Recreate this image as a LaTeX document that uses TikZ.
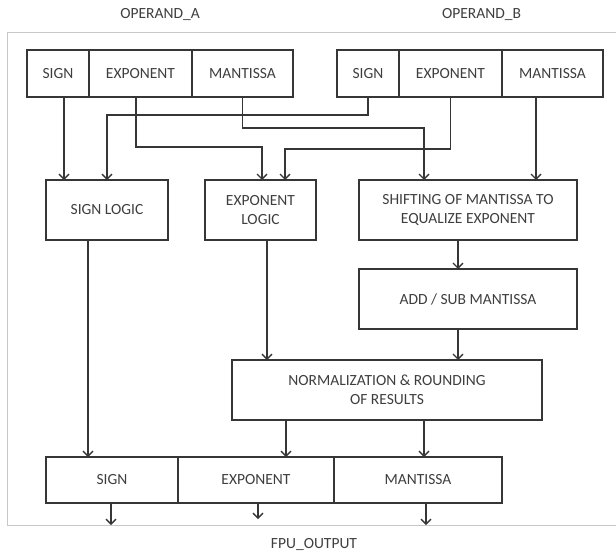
\documentclass[tikz,border=0pt]{standalone}
\usepackage{fontspec}
\setmainfont{Carlito}
\usetikzlibrary{positioning,arrows.meta}
\definecolor{linegray}{HTML}{363636}
\definecolor{textgray}{HTML}{3E3E3E}
\definecolor{framegray}{HTML}{C8C8C8}

\begin{document}
\begin{tikzpicture}
	[x=1pt, y=-1pt,
		font=\fontsize{15.5}{19}\selectfont,
		text=textgray,
		field/.style	={rectangle
								, draw=linegray
								, line width=1.4pt
								, minimum height=47pt
								, inner sep=0pt
								, outer sep=0pt
								},
		block/.style	={rectangle
								, draw=linegray
								, line width=1.4pt
								, minimum height=60pt
								, align=center
								, inner sep=0pt
								, outer sep=0pt
								},
		line/.style		={draw=linegray
								, line width=1.4pt
								, -{Straight Barb[length=5pt,width=10pt]}
								}
	]
\useasboundingbox (0,0) rectangle (616,554);
% frame round the unit
\draw [framegray, line width=1pt] (617,32) -- (7,32) -- (7,525) -- (617,525);
\coordinate (frame bottom) at (0,525);

% operands
\node (operand a) at (160,15) {OPERAND\_A};
\node (operand b) at (481.5,15) {OPERAND\_B};
\node [field, minimum width=62pt, anchor=north west] (a sign) at (27,50) {SIGN};
\node [field, minimum width=103pt, right=0pt of a sign] (a exponent) {EXPONENT};
\node [field, minimum width=101pt, right=0pt of a exponent] (a mantissa) {MANTISSA};
\node [field, minimum width=62pt, anchor=north west] (b sign) at (337,50) {SIGN};
\node [field, minimum width=103pt, right=0pt of b sign] (b exponent) {EXPONENT};
\node [field, minimum width=101pt, right=0pt of b exponent] (b mantissa) {MANTISSA};

% logic blocks
\node [block, minimum width=122pt] (sign logic) at (107,210) {SIGN LOGIC};
\node [block, minimum width=111pt] (exponent logic) at (260.5,210) {EXPONENT\\LOGIC};
\node [block, minimum width=218pt] (shifting) at (468,210) {SHIFTING OF MANTISSA TO\\EQUALIZE EXPONENT};
\node [block, minimum width=218pt, below=29pt of shifting] (add sub) {ADD / SUB MANTISSA};
\node [block, minimum width=310pt] (normalization) at (387,390) {NORMALIZATION \& ROUNDING\\OF RESULTS};

% result
\node [field, minimum height=46pt, minimum width=132pt, anchor=north west] (out sign) at (46,457) {SIGN};
\node [field, minimum height=46pt, minimum width=156pt, right=0pt of out sign] (out exponent) {EXPONENT};
\node [field, minimum height=46pt, minimum width=168pt, right=0pt of out exponent] (out mantissa) {MANTISSA};
\node (fpu output) at (314,545) {FPU\_OUTPUT};

\begin{scope}[every path/.style=line]
	\path		([xshift=6pt]a sign.south)			-- ([xshift=6pt]a sign.south |- sign logic.north);
	\path		(b sign.south)							-- ++(0,18) -| (sign logic.north);
	\path		([xshift=-4.5pt]a exponent.south)	-- ++(0,50) -| ([xshift=1.5pt]exponent logic.north);
	\path		(b exponent.south)						-- ++(0,52) -| ([xshift=24.5pt]exponent logic.north);
	\path		(a mantissa.south)						-- ++(0,31) -| ([xshift=-44pt]shifting.north);
	\path		([xshift=-16.5pt]b mantissa.south)	-- ([xshift=-16.5pt]b mantissa.south |- shifting.north);
	\path		([xshift=-19pt]sign logic.south)		-- ([xshift=-19pt]sign logic.south |- out sign.north);
	\path		([xshift=6.5pt]exponent logic.south)	-- ([xshift=6.5pt]exponent logic.south |- normalization.north);
	\path		([xshift=-10pt]shifting.south)			-- ([xshift=-10pt]add sub.north);
	\path		([xshift=-10pt]add sub.south)			-- ([xshift=-10pt]add sub.south |- normalization.north);
	\path		([xshift=-101pt]normalization.south)	-- ([xshift=-101pt]normalization.south |- out exponent.north);
	\path		([xshift=37pt]normalization.south)	-- ([xshift=37pt]normalization.south |- out mantissa.north);
	\path		([xshift=-1pt]out sign.south)			-- ([xshift=-1pt]out sign.south |- frame bottom);
	\path		([xshift=2pt]out exponent.south)		-- ([xshift=2pt,yshift=-16pt]out exponent.south);
	\path		([xshift=8pt]out mantissa.south)		-- ([xshift=8pt]out mantissa.south |- frame bottom);
\end{scope}
\end{tikzpicture}
\end{document}
